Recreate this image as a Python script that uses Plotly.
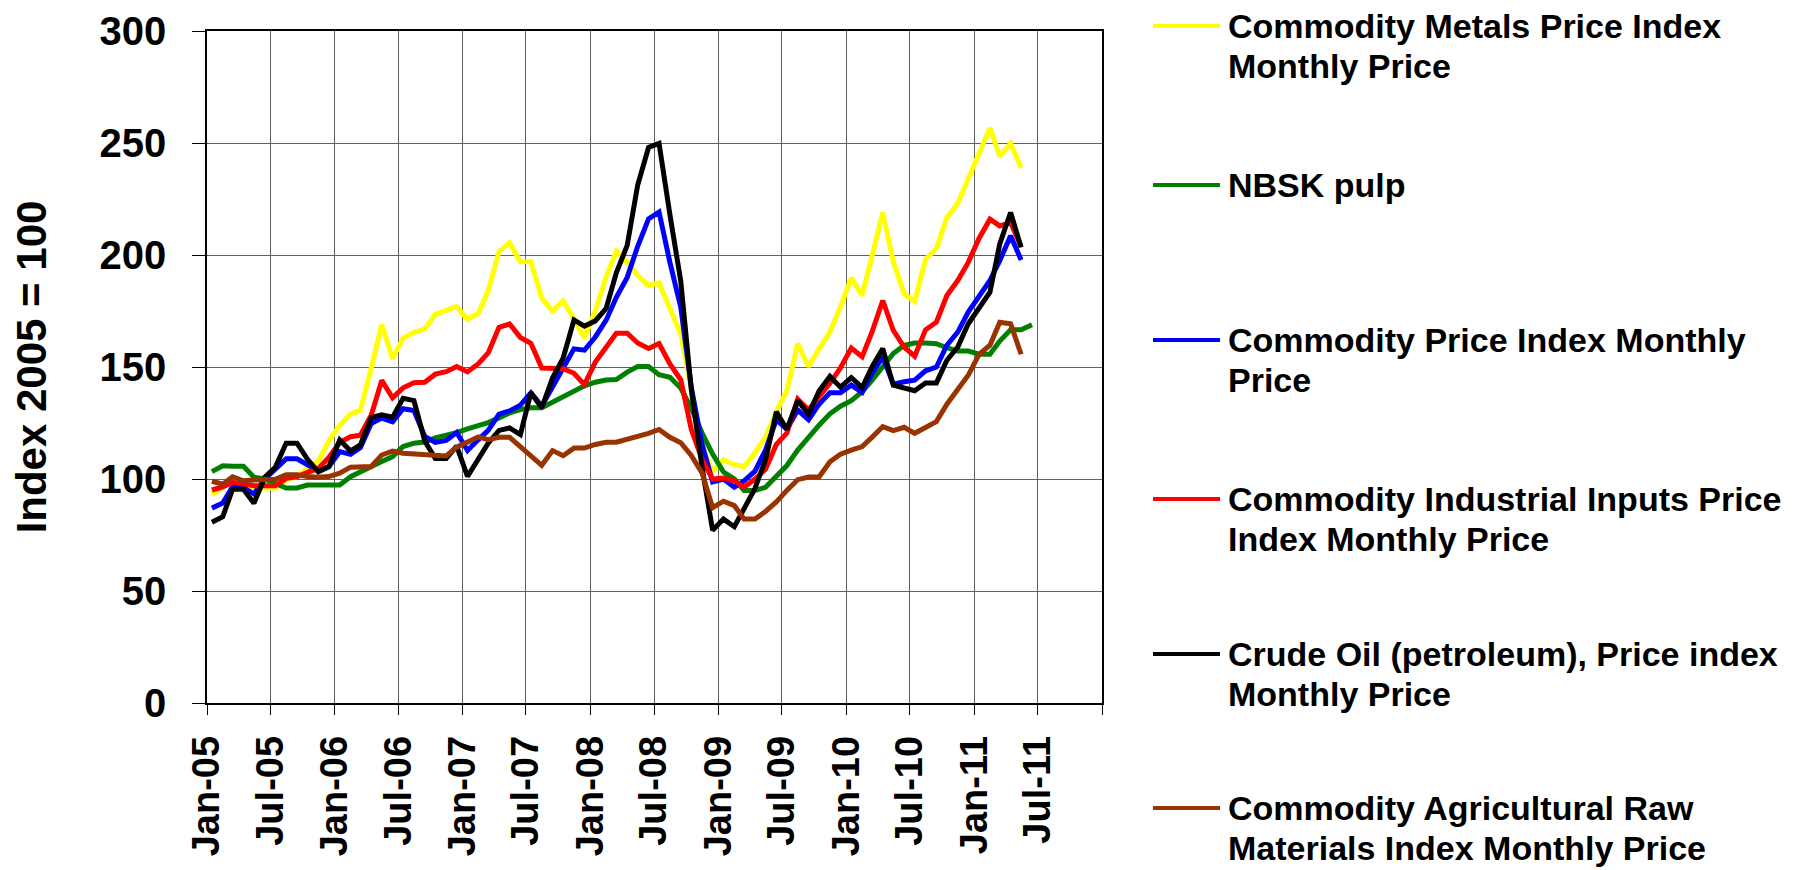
import plotly.graph_objects as go
import pandas as pd

# ---------------- data (index 2005 = 100), monthly from Jan-2005 ----------------
metals = [93, 96, 99, 97, 96, 96, 96, 99.6, 101, 105,
          108, 117, 124, 129, 130.5, 149.5, 169, 153.7, 162.8, 165.5,
          167, 173.5, 175, 177, 171.3, 174, 184, 201.6, 205.4, 197,
          197, 180.8, 175, 179.5, 171.5, 163.1, 175, 190.3, 201.7, 196.7,
          190.8, 186.4, 187.5, 175.5, 164.7, 140, 115, 103.4, 108.6, 106.4,
          105.5, 111.7, 118.8, 130, 139.4, 160.5, 150.2, 158.1, 165.6, 176.7,
          189.8, 182, 198.9, 218.9, 197, 182.6, 179.3, 198.1, 202.8, 216.8,
          223, 234, 245.6, 256.7, 244, 249.8, 239]

nbsk = [103.3, 105.9, 105.7, 105.7, 100.8, 100, 98, 96, 96, 97.3,
        97.3, 97.3, 97.3, 101, 103.3, 105.5, 107.8, 110, 114.5, 116,
        116.5, 118.4, 119.5, 120.7, 122.4, 123.8, 125.2, 127.3, 129.5, 131,
        131.8, 131.8, 134.3, 136.5, 138.7, 141.6, 143.2, 144.2, 144.4, 147.7,
        150.2, 150.2, 146.6, 145.4, 140.6, 131.6, 120.5, 111.1, 103.1, 100,
        94.9, 94.9, 96.3, 100.9, 106, 112.9, 118.8, 124, 129.1, 132.5,
        135, 139, 144, 150, 156, 159.7, 160.7, 160.7, 160.4, 158.6,
        157.1, 157.1, 155.7, 155.7, 161.6, 166.6, 166.6, 168.9]

commodity = [87, 89.3, 96.6, 96.2, 93.3, 100, 104.4, 109, 109, 106.2,
             103.6, 105.5, 112.2, 111, 114, 124.8, 127.2, 125.5, 131.4, 130.6,
             119, 116.3, 117.2, 120.8, 112.7, 117.6, 121.7, 129, 130.4, 133,
             138.4, 132.5, 140.9, 149.5, 158.1, 157.5, 163.4, 170.9, 181.1, 190,
             203.9, 216.1, 219.2, 196.7, 176.7, 141, 115.4, 98.7, 100, 96.3,
             99.2, 103.5, 112.9, 126.5, 122.2, 130.8, 126.5, 133.4, 138.5, 138.5,
             141.9, 138.7, 147, 154.5, 142.3, 143.4, 144.1, 148.3, 150, 159.7,
             165.6, 174.5, 181.2, 188.6, 197.5, 208.6, 197.8]

industrial = [95.1, 96.5, 98.5, 97.8, 97, 97, 97, 100.3, 101, 103,
              104.7, 109.6, 116.3, 118.9, 119.6, 128.5, 144, 136.2, 140.7, 143,
              143.2, 146.8, 147.9, 150.2, 147.8, 151.5, 156.3, 167.7, 169.2, 163.2,
              160.6, 149.5, 149.3, 149.2, 147.2, 142.1, 152.2, 158.9, 165.1, 165.1,
              160.7, 158.3, 160.5, 151.4, 144.3, 122.2, 108.6, 100, 100.4, 99.2,
              96.3, 100, 104.3, 115.4, 120.5, 135.6, 130.8, 136.8, 142.7, 149.6,
              158.5, 154.6, 165.6, 179.7, 166.3, 158.9, 154.8, 166.6, 170, 181.9,
              188.6, 196.7, 207.5, 216, 213, 214.5, 203.7]

crude = [80.7, 83.2, 95.4, 95.4, 89.2, 100.8, 105.2, 116, 116, 108.8,
         103.2, 105.5, 117.4, 112.5, 115.2, 127.4, 128.7, 127.6, 136, 135,
         117, 109.1, 109.1, 114.7, 101.2, 108.5, 116, 121.7, 122.8, 119.8,
         138.5, 131.8, 145.2, 153.9, 171, 168.2, 170.6, 176.2, 192, 204.3,
         231.2, 248, 249.8, 218, 188.4, 140, 105, 77.1, 82.1, 78.7,
         87.2, 95.8, 108.6, 130, 122.2, 135, 129, 139.3, 145.8, 141,
         145.3, 140.8, 150, 158.2, 141.9, 140.8, 139.4, 142.9, 142.9, 153,
         158.9, 169.3, 176.7, 183.4, 204.9, 219, 203.4]

agri = [99, 97.7, 101, 99.2, 99.6, 99.9, 99.9, 101.9, 101.9, 101.1,
        100.8, 101.1, 102.6, 105.3, 105.6, 105.6, 110.7, 112.5, 111.5, 111.2,
        110.5, 110.3, 110.3, 114.2, 116.6, 118.8, 117.6, 118.6, 118.6, 114.6,
        110.3, 106.1, 112.7, 110.4, 113.8, 113.8, 115.4, 116.4, 116.4, 117.6,
        119, 120.4, 122.1, 118.6, 116.2, 110.5, 102.6, 87.2, 90.1, 88.1,
        82.1, 82.1, 85.5, 89.8, 94.9, 99.7, 100.9, 100.9, 107.7, 111.1,
        112.9, 114.5, 118.6, 123.4, 121.6, 123.1, 120.4, 123.1, 125.6, 133.4,
        140, 146.3, 155.7, 159.7, 170, 169.3, 155.7]

months = pd.date_range("2005-01-01", periods=78, freq="MS") + pd.Timedelta(days=14)

tick_dates = ["2005-01-01", "2005-07-01", "2006-01-01", "2006-07-01", "2007-01-01",
              "2007-07-01", "2008-01-01", "2008-07-01", "2009-01-01", "2009-07-01",
              "2010-01-01", "2010-07-01", "2011-01-01", "2011-07-01", "2012-01-01"]
tick_labels = ["Jan-05", "Jul-05", "Jan-06", "Jul-06", "Jan-07", "Jul-07", "Jan-08",
               "Jul-08", "Jan-09", "Jul-09", "Jan-10", "Jul-10", "Jan-11", "Jul-11", ""]

series = [
    (["Commodity Metals Price Index", "Monthly Price"], metals, "#FFFF00"),
    (["NBSK pulp"], nbsk, "#008000"),
    (["Commodity Price Index Monthly", "Price"], commodity, "#0000FF"),
    (["Commodity Industrial Inputs Price", "Index Monthly Price"], industrial, "#FF0000"),
    (["Crude Oil (petroleum), Price index", "Monthly Price"], crude, "#000000"),
    (["Commodity Agricultural Raw", "Materials Index Monthly Price"], agri, "#993300"),
]

FONT = "Liberation Sans, Arial, sans-serif"
W, H = 1804, 870
L, R, T, B = 207, 1102, 31, 703   # plot area in pixels

def px(x):
    return (x - L) / (R - L)

def py(y):
    return (B - y) / (B - T)

fig = go.Figure()
for lines, vals, col in series:
    fig.add_trace(go.Scatter(
        x=months[:len(vals)], y=vals, mode="lines", name=" ".join(lines),
        line=dict(color=col, width=5), showlegend=False))

# manual legend (long line samples like the original)
legend_y = [26, 185, 340, 499, 654, 808]
shapes = []
annotations = []
for (lines, vals, col), ly in zip(series, legend_y):
    shapes.append(dict(type="line", xref="paper", yref="paper",
                       x0=px(1153), x1=px(1220), y0=py(ly), y1=py(ly),
                       line=dict(color=col, width=4)))
    for k, txt in enumerate(lines):
        annotations.append(dict(xref="paper", yref="paper", x=px(1226), y=py(ly + 40 * k),
                                xanchor="left", yanchor="middle", showarrow=False,
                                text=txt, font=dict(family=FONT, size=34, color="black", weight="bold")))

fig.update_layout(
    template="none",
    width=W, height=H,
    margin=dict(l=L, r=W - R, t=T, b=H - B, pad=0),
    paper_bgcolor="white", plot_bgcolor="white",
    font=dict(family=FONT, color="black"),
    showlegend=False,
    shapes=shapes, annotations=annotations,
    xaxis=dict(type="date", range=["2005-01-01", "2012-01-01"],
               tickmode="array", tickvals=tick_dates, ticktext=tick_labels,
               tickangle=-90, tickfont=dict(family=FONT, size=38, weight="bold", color="black"),
               ticks="outside", ticklen=10, tickcolor="black", tickwidth=1,
               ticklabelstandoff=6,
               showgrid=True, gridcolor="#606060", gridwidth=1,
               showline=True, linecolor="black", linewidth=1.5, mirror=True,
               zeroline=False, automargin=False),
    yaxis=dict(range=[0, 300], tickmode="linear", tick0=0, dtick=50,
               tickfont=dict(family=FONT, size=40, weight="bold", color="black"),
               ticks="outside", ticklen=13, tickcolor="black", tickwidth=1,
               ticklabelstandoff=18,
               showgrid=True, gridcolor="#606060", gridwidth=1,
               showline=True, linecolor="black", linewidth=1.5, mirror=True,
               zeroline=False, automargin=False,
               title=dict(text="Index 2005 = 100", standoff=40,
                          font=dict(family=FONT, size=42, weight="bold", color="black"))),
)

fig.write_html("out.html", config={"displayModeBar": False},
               post_script="document.body.style.margin='0';document.body.style.overflow='hidden';")
